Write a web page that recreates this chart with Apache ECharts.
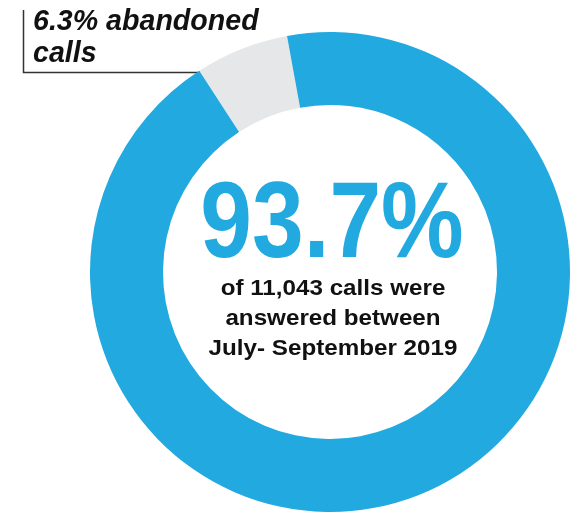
<!DOCTYPE html>
<html>
<head>
<meta charset="utf-8">
<script src="https://cdn.jsdelivr.net/npm/echarts@6/dist/echarts.min.js"></script>
<style>
  html, body { margin: 0; padding: 0; background: #ffffff; }
  #chart { width: 576px; height: 512px; }
</style>
</head>
<body>
<div id="chart"></div>
<script>
// Call outcomes for July - September 2019 (percent of all calls)
const categories = ['Abandoned', 'Answered'];
const shares = [6.3, 93.7];
const totalCalls = '11,043';
const period = 'July- September 2019';
const colors = ['#e6e7e8', '#22a9e0'];

const chart = echarts.init(document.getElementById('chart'), null, { renderer: 'canvas' });

const answered = shares[1];
const abandoned = shares[0];

chart.setOption({
  animation: false,
  backgroundColor: '#ffffff',
  series: [{
    type: 'pie',
    silent: true,
    center: [330, 272],
    radius: [167, 240],
    startAngle: 123,
    clockwise: true,
    label: { show: false },
    labelLine: { show: false },
    emphasis: { disabled: true },
    data: categories.map((name, i) => ({
      name: name,
      value: shares[i],
      itemStyle: { color: colors[i] }
    }))
  }],
  graphic: [
    {
      // headline share, tightly set
      type: 'text',
      x: 332,
      y: 227,
      scaleX: 0.86,
      silent: true,
      style: {
        text: answered.toFixed(1) + '%',
        fill: colors[1],
        font: 'bold 108px "Liberation Sans", Arial, sans-serif',
        align: 'center',
        verticalAlign: 'middle'
      }
    },
    {
      type: 'text',
      x: 333,
      y: 319,
      scaleX: 1.1,
      silent: true,
      style: {
        text: 'of ' + totalCalls + ' calls were\nanswered between\n' + period,
        fill: '#111111',
        font: 'bold 22px "Liberation Sans", Arial, sans-serif',
        lineHeight: 30,
        align: 'center',
        verticalAlign: 'middle'
      }
    },
    {
      type: 'text',
      x: 33,
      y: 38,
      silent: true,
      style: {
        text: abandoned.toFixed(1) + '% abandoned\ncalls',
        fill: '#111111',
        font: 'italic bold 28.6px "Liberation Sans", Arial, sans-serif',
        lineHeight: 32,
        align: 'left',
        verticalAlign: 'middle'
      }
    },
    {
      // leader from the abandoned slice to its note
      type: 'polyline',
      silent: true,
      shape: { points: [[23.5, 10], [23.5, 72.5], [200, 72.5]] },
      style: { stroke: '#333333', lineWidth: 1.5, fill: null }
    }
  ]
});
</script>
</body>
</html>
